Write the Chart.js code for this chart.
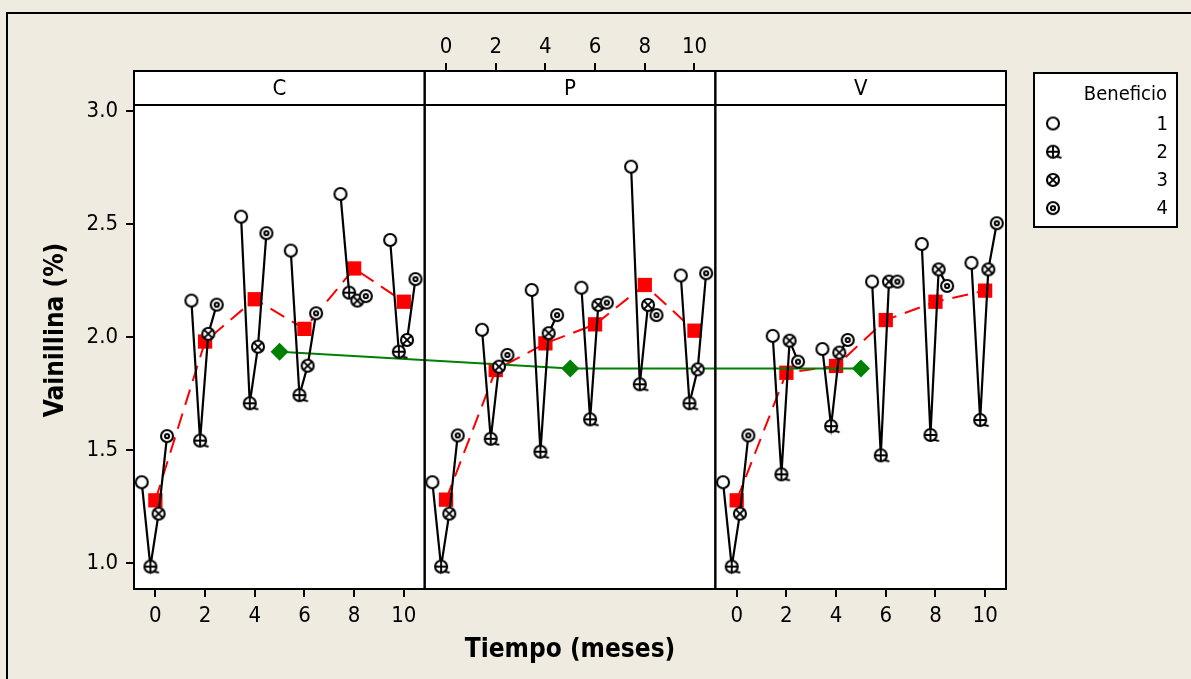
<!DOCTYPE html>
<html>
<head>
<meta charset="utf-8">
<script src="https://cdn.jsdelivr.net/npm/chart.js@4/dist/chart.umd.min.js"></script>
<style>
  html, body { margin: 0; padding: 0; background: #EFEBE1; }
  #wrap { position: relative; width: 1191px; height: 679px; }
</style>
</head>
<body>
<div id="wrap"><canvas id="grafico" width="1191" height="679"></canvas></div>
<script>
// ---- Datos: vainillina (%) por tiempo y beneficio ----
const paneles = ['C', 'P', 'V'];
const tiempos = [0, 2, 4, 6, 8, 10];
const beneficios = ['1', '2', '3', '4'];
const ticksY = [1.0, 1.5, 2.0, 2.5, 3.0];
const ticksX = [0, 2, 4, 6, 8, 10];

// Panel C
const c1 = [1.358, 2.161, 2.532, 2.382, 2.632, 2.429];
const c2 = [0.985, 1.542, 1.707, 1.743, 2.196, 1.935];
const c3 = [1.219, 2.014, 1.957, 1.873, 2.161, 1.987];
const c4 = [1.562, 2.143, 2.459, 2.105, 2.181, 2.256];
const cMedia = [1.278, 1.980, 2.167, 2.036, 2.303, 2.156];

// Panel P
const p1 = [1.358, 2.032, 2.208, 2.218, 2.753, 2.272];
const p2 = [0.985, 1.550, 1.493, 1.636, 1.791, 1.707];
const p3 = [1.219, 1.869, 2.017, 2.142, 2.142, 1.857];
const p4 = [1.565, 1.921, 2.097, 2.152, 2.097, 2.282];
const pMedia = [1.281, 1.854, 1.972, 2.056, 2.230, 2.028];

// Panel V
const v1 = [1.358, 2.005, 1.947, 2.245, 2.411, 2.328];
const v2 = [0.985, 1.393, 1.606, 1.477, 1.567, 1.633];
const v3 = [1.219, 1.984, 1.931, 2.245, 2.299, 2.299];
const v4 = [1.565, 1.891, 1.987, 2.245, 2.226, 2.503];
const vMedia = [1.278, 1.842, 1.872, 2.075, 2.156, 2.205];

// Media general de cada panel
const mediaPanel = [1.935, 1.861, 1.861];

// ---- Geometría de los paneles (eje X compartido) ----
const XMIN = -0.86;          // borde izquierdo de cada panel, en meses
const SPAN = 11.7;           // ancho de un panel, en meses
const XMAX = XMIN + 3 * SPAN;
const YMIN = 0.886, YMAX = 3.176;   // incluye la franja de títulos de panel
const dodge = [-0.55, -0.2, 0.13, 0.47];   // desplazamiento horizontal por beneficio
const CENTRO_MEDIA = 5;      // posición del rombo de media del panel

const FAM = '"DejaVu Sans Condensed", "DejaVu Sans", sans-serif';
const series = [[c1, c2, c3, c4], [p1, p2, p3, p4], [v1, v2, v3, v4]];
const medias = [cMedia, pMedia, vMedia];

// ---- Símbolos de Minitab para los beneficios ----
function simbolo(tipo) {
  const s = 22, cv = document.createElement('canvas');
  cv.width = s; cv.height = s;
  const g = cv.getContext('2d');
  const cx = s / 2, cy = s / 2, r = 6;
  g.lineWidth = 2.1; g.strokeStyle = '#000'; g.fillStyle = '#fff';
  g.beginPath(); g.arc(cx, cy, r, 0, Math.PI * 2); g.fill(); g.stroke();
  g.beginPath();
  g.lineWidth = 1.9;
  if (tipo === 1) {
    g.moveTo(cx, cy - r); g.lineTo(cx, cy + r);
    g.moveTo(cx - r, cy); g.lineTo(cx + r, cy);
    g.moveTo(cx + 3.5, cy + 4.8); g.lineTo(cx + 8.5, cy + 6);
    g.stroke();
  } else if (tipo === 2) {
    const d = r * 0.74;
    g.moveTo(cx - d, cy - d); g.lineTo(cx + d, cy + d);
    g.moveTo(cx + d, cy - d); g.lineTo(cx - d, cy + d);
    g.stroke();
  } else if (tipo === 3) {
    g.lineWidth = 2;
    g.arc(cx, cy, 2.1, 0, Math.PI * 2); g.stroke();
  }
  return cv;
}
const simbolos = [0, 1, 2, 3].map(simbolo);

// ---- Construcción de los conjuntos de datos ----
const puntos = [];
series.forEach((grupo, p) => {
  tiempos.forEach((t, i) => {
    grupo.forEach((arr, b) => puntos.push({ x: p * SPAN + t + dodge[b], y: arr[i], b }));
    puntos.push({ x: p * SPAN + t + 0.9, y: null, b: 0 });
  });
});

const puntosMedia = [];
medias.forEach((arr, p) => {
  tiempos.forEach((t, i) => puntosMedia.push({ x: p * SPAN + t, y: arr[i] }));
  puntosMedia.push({ x: p * SPAN + 10.8, y: null });
});

const puntosPanel = mediaPanel.map((m, p) => ({ x: p * SPAN + CENTRO_MEDIA, y: m }));

const tickBottom = [];
const tickTop = [];
ticksX.forEach(t => { tickBottom.push(t); tickTop.push(SPAN + t); });
ticksX.forEach(t => tickBottom.push(2 * SPAN + t));

const etiquetaX = v => String(Math.round(v - Math.floor((v - XMIN) / SPAN) * SPAN));

// ---- Marco, paneles, franjas y leyenda ----
const marco = {
  id: 'marco',
  beforeDraw(chart) {
    const { ctx, chartArea: a } = chart;
    ctx.save();
    ctx.fillStyle = '#EFEBE1';
    ctx.fillRect(0, 0, chart.width, chart.height);
    ctx.strokeStyle = '#000'; ctx.lineWidth = 2;
    ctx.strokeRect(7, 13, 3000, 3000);
    ctx.fillStyle = '#fff';
    ctx.fillRect(a.left, a.top, a.right - a.left, a.bottom - a.top);
    ctx.restore();
  },
  afterDatasetsDraw(chart) {
    const { ctx, chartArea: a, scales } = chart;
    const x = scales.x;
    const yStrip = 105;
    ctx.save();
    ctx.strokeStyle = '#000'; ctx.lineWidth = 2;
    ctx.fillStyle = '#000';
    ctx.font = '22px ' + FAM;
    ctx.textAlign = 'center'; ctx.textBaseline = 'middle';
    paneles.forEach((nombre, p) => {
      const l = x.getPixelForValue(XMIN + p * SPAN);
      const r = x.getPixelForValue(XMIN + (p + 1) * SPAN);
      ctx.strokeRect(l, a.top, r - l, a.bottom - a.top);
      ctx.beginPath(); ctx.moveTo(l, yStrip); ctx.lineTo(r, yStrip); ctx.stroke();
      ctx.fillText(nombre, (l + r) / 2, (a.top + yStrip) / 2 + 1);
    });

    // Leyenda de beneficios
    const L = 1034, T = 73, W = 143, H = 154;
    ctx.fillStyle = '#fff';
    ctx.fillRect(L, T, W, H);
    ctx.strokeRect(L, T, W, H);
    ctx.fillStyle = '#000';
    ctx.font = '20px ' + FAM;
    ctx.textAlign = 'right';
    ctx.fillText('Beneficio', 1167, 95);
    beneficios.forEach((b, i) => {
      const cy = 123.5 + i * 28.2;
      const s = simbolos[i];
      ctx.drawImage(s, 1053 - s.width / 2, cy - s.height / 2);
      ctx.fillText(b, 1168, cy + 1);
    });
    ctx.restore();
  }
};

const tickFont = { family: FAM, size: 22 };
const tituloFont = { family: FAM, size: 26, weight: 'bold' };

new Chart(document.getElementById('grafico'), {
  type: 'line',
  data: {
    datasets: [
      {
        label: 'Beneficio',
        data: puntos,
        order: 0,
        borderColor: '#000',
        borderWidth: 2.2,
        spanGaps: false,
        tension: 0,
        pointStyle: c => simbolos[(c.raw && c.raw.b) || 0],
        pointRadius: 7,
        clip: false
      },
      {
        label: 'Media panel',
        data: puntosPanel,
        order: 1,
        borderColor: '#008000',
        borderWidth: 2,
        backgroundColor: '#008000',
        pointStyle: 'rectRot',
        pointRadius: 9,
        pointBorderWidth: 0,
        tension: 0
      },
      {
        label: 'Media tiempo',
        data: puntosMedia,
        order: 2,
        borderColor: '#FF0000',
        borderWidth: 2,
        borderDash: [16, 9],
        backgroundColor: '#FF0000',
        pointStyle: 'rect',
        pointRadius: 10.1,
        pointBorderWidth: 0,
        spanGaps: false,
        tension: 0
      }
    ]
  },
  options: {
    responsive: false,
    animation: false,
    events: [],
    layout: { padding: { left: 0, right: 185, top: 0, bottom: 0 } },
    plugins: { legend: { display: false }, tooltip: { enabled: false } },
    scales: {
      x: {
        type: 'linear', position: 'bottom', min: XMIN, max: XMAX,
        afterBuildTicks: s => { s.ticks = tickBottom.map(v => ({ value: v })); },
        afterFit: s => { s.height = 90; },
        ticks: { callback: etiquetaX, font: tickFont, color: '#000', padding: 6, autoSkip: false, maxRotation: 0 },
        grid: { drawOnChartArea: false, drawTicks: true, tickLength: 8, color: '#000', lineWidth: 2 },
        border: { display: false },
        title: { display: true, text: 'Tiempo (meses)', font: tituloFont, color: '#000', padding: { top: 0, bottom: 13 } }
      },
      x2: {
        type: 'linear', position: 'top', min: XMIN, max: XMAX,
        afterBuildTicks: s => { s.ticks = tickTop.map(v => ({ value: v })); },
        afterFit: s => { s.height = 71; },
        ticks: { callback: etiquetaX, font: tickFont, color: '#000', padding: 3, autoSkip: false, maxRotation: 0 },
        grid: { drawOnChartArea: false, drawTicks: true, tickLength: 8, color: '#000', lineWidth: 2 },
        border: { display: false }
      },
      y: {
        type: 'linear', position: 'left', min: YMIN, max: YMAX,
        afterBuildTicks: s => { s.ticks = ticksY.map(v => ({ value: v })); },
        afterFit: s => { s.width = 134; },
        ticks: { callback: v => v.toFixed(1), font: tickFont, color: '#000', padding: 8 },
        grid: { drawOnChartArea: false, drawTicks: true, tickLength: 8, color: '#000', lineWidth: 2 },
        border: { display: false },
        title: { display: true, text: 'Vainillina (%)', font: tituloFont, color: '#000', padding: { top: 41, bottom: 0 } }
      }
    }
  },
  plugins: [marco]
});
</script>
</body>
</html>
